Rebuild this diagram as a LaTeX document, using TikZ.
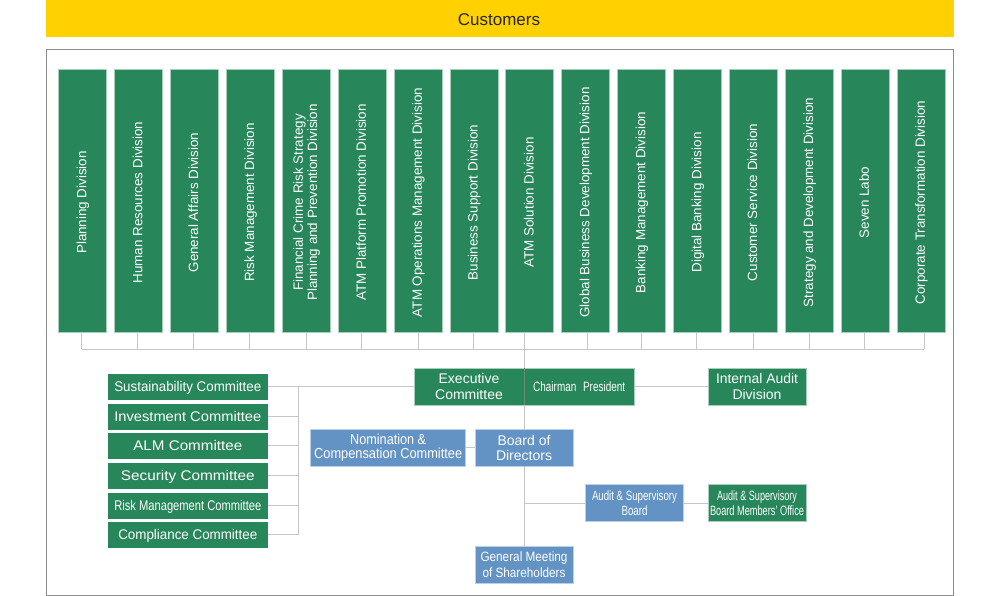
\documentclass[tikz,border=0pt]{standalone}
\usepackage{fontspec}
\usepackage{graphicx}
\setmainfont{Liberation Sans}
\definecolor{grn}{HTML}{27865A}
\definecolor{grnedge}{HTML}{A8CFBA}
\definecolor{blu}{HTML}{6393C4}
\definecolor{bluedge}{HTML}{BBD0E6}
\definecolor{ylw}{HTML}{FFD100}
\definecolor{cline}{HTML}{C6C6C6}
\definecolor{frm}{HTML}{8C8C8C}
\definecolor{seam}{HTML}{6C8C78}
\newcommand{\fw}[2]{\resizebox{#1pt}{\height}{#2}}
\newcommand{\vt}[1]{\hspace{2pt}\rotatebox{90}{\begin{tabular}{@{}c@{}}#1\end{tabular}\hspace{3pt}}}
\tikzset{
  box/.style={rectangle,draw,line width=.5pt,inner sep=0pt,outer sep=0pt,text=white,align=center,
    font=\fontsize{13.5}{16}\selectfont},
  green/.style={box,fill=grn,draw=grnedge},
  blue/.style={box,fill=blu,draw=bluedge},
  div/.style={green,minimum width=48pt,minimum height=263pt,font=\fontsize{13.4}{14.4}\selectfont},
  cmt/.style={green,draw=grn,minimum width=159.5pt,minimum height=25pt,text height=11pt,text depth=2pt,font=\fontsize{14}{16}\selectfont},
  wide/.style={minimum width=98pt,minimum height=37pt},
  conn/.style={draw=cline,line width=1pt}
}
\begin{document}
\begin{tikzpicture}[x=1pt,y=-1pt]
\useasboundingbox (0,0) rectangle (1000,596);
\node[rectangle,fill=ylw,minimum width=908pt,minimum height=37pt,inner sep=0pt,text height=14.5pt,text depth=0pt,font=\fontsize{17}{19}\selectfont,text=black!85] (cust) at (500,18.5) {\hspace{-2pt}Customers};
\node[rectangle,draw=frm,line width=1pt,minimum width=907pt,minimum height=546pt,inner sep=0pt] (frame) at (500,322.5) {};
% divisions
\node[div] (d1) at (82.5,201) {\vt{Planning Division}};
\node[div] (d2) at (138.4,201) {\vt{Human Resources Division}};
\node[div] (d3) at (194.3,201) {\vt{General Affairs Division}};
\node[div] (d4) at (250.2,201) {\vt{Risk Management Division}};
\node[div] (d5) at (306.1,201) {\vt{Financial Crime Risk Strategy\\Planning and Prevention Division}};
\node[div] (d6) at (362,201) {\vt{ATM Platform Promotion Division}};
\node[div] (d7) at (417.9,201) {\vt{ATM Operations Management Division}};
\node[div] (d8) at (473.8,201) {\vt{Business Support Division}};
\node[div] (d9) at (529.7,201) {\vt{ATM Solution Division}};
\node[div] (d10) at (585.6,201) {\vt{Global Business Development Division}};
\node[div] (d11) at (641.5,201) {\vt{Banking Management Division}};
\node[div] (d12) at (697.4,201) {\vt{Digital Banking Division}};
\node[div] (d13) at (753.3,201) {\vt{Customer Service Division}};
\node[div] (d14) at (809.2,201) {\vt{Strategy and Development Division}};
\node[div] (d15) at (865.1,201) {\vt{Seven Labo}};
\node[div] (d16) at (921,201) {\vt{Corporate Transformation Division}};
% committees
\node[cmt] (c1) at (187.8,386.5) {\fw{147}{Sustainability Committee}};
\node[cmt] (c2) at (187.8,416.5) {\fw{147}{Investment Committee}};
\node[cmt] (c3) at (187.8,445.5) {\fw{109}{ALM Committee}};
\node[cmt] (c4) at (187.8,475.5) {\fw{134}{Security Committee}};
\node[cmt] (c5) at (187.8,505.5) {\fw{147}{Risk Management Committee}};
\node[cmt] (c6) at (187.8,534.5) {\fw{139}{Compliance Committee}};
% centre
\node[green,minimum width=110.5pt,minimum height=37pt,font=\fontsize{14}{16}\selectfont] (exec) at (469,386.7) {Executive\\Committee};
\node[green,minimum width=110.5pt,minimum height=37pt] (chair) at (579.2,386.7) {\fw{92}{Chairman\hspace{9pt}President}};
\node[green,wide,font=\fontsize{14}{16}\selectfont] (audit) at (757,386.7) {\fw{82}{Internal Audit}\\Division};
\node[blue,minimum width=155pt,minimum height=37pt,font=\fontsize{14.5}{13.5}\selectfont] (nom) at (388.2,447.8) {\fw{76}{Nomination \&}\\\fw{148}{Compensation Committee}};
\node[blue,wide,font=\fontsize{14}{15.5}\selectfont] (board) at (524,447.8) {Board of\\Directors};
\node[blue,wide,font=\fontsize{13.5}{15}\selectfont] (asb) at (634.5,503.2) {\fw{85}{Audit \& Supervisory}\\\fw{26}{Board}};
\node[green,wide,font=\fontsize{13.5}{15}\selectfont] (office) at (757,503.2) {\fw{80}{Audit \& Supervisory}\\\fw{94}{Board Members' Office}};
\node[blue,wide,font=\fontsize{13.5}{16}\selectfont] (agm) at (524,564.5) {\fw{87}{General Meeting}\\\fw{83}{of Shareholders}};
% connectors
\coordinate (busy) at (0,349.3);
\foreach \n/\s in {1/-.8,2/-.7,3/-.6,4/-.5,5/.6,6/-.3,7/.8,8/-.5,9/-5.4,10/1.7,11/-.2,12/-.7,13/0,14/.1,15/-1.1,16/3}{
  \draw[conn] ([xshift=\s pt]d\n.south) -- ([xshift=\s pt]d\n.south |- busy);
}
\draw[conn] ([xshift=-.8pt]d1.south |- busy) -- ([xshift=3pt]d16.south |- busy);
\draw[conn] (board.north) -- (board.north |- d9.south);
\draw[draw=seam,line width=1pt] (exec.north east) -- (exec.south east);
\draw[conn] (board.south) -- (agm.north);
\draw[conn] (c1.east) -- (exec.west |- c1.east);
\draw[conn] (c1.east -| 298.7,0) -- (c6.east -| 298.7,0);
\foreach \n in {2,3,4,5,6}{
  \draw[conn] (c\n.east) -- (c\n.east -| 298.7,0);
}
\draw[conn] (chair.east) -- (audit.west);
\draw[conn] (nom.east) -- (board.west);
\draw[conn] (asb.west -| board.south) -- (asb.west);
\draw[conn] (asb.east) -- (office.west);
\end{tikzpicture}
\end{document}
